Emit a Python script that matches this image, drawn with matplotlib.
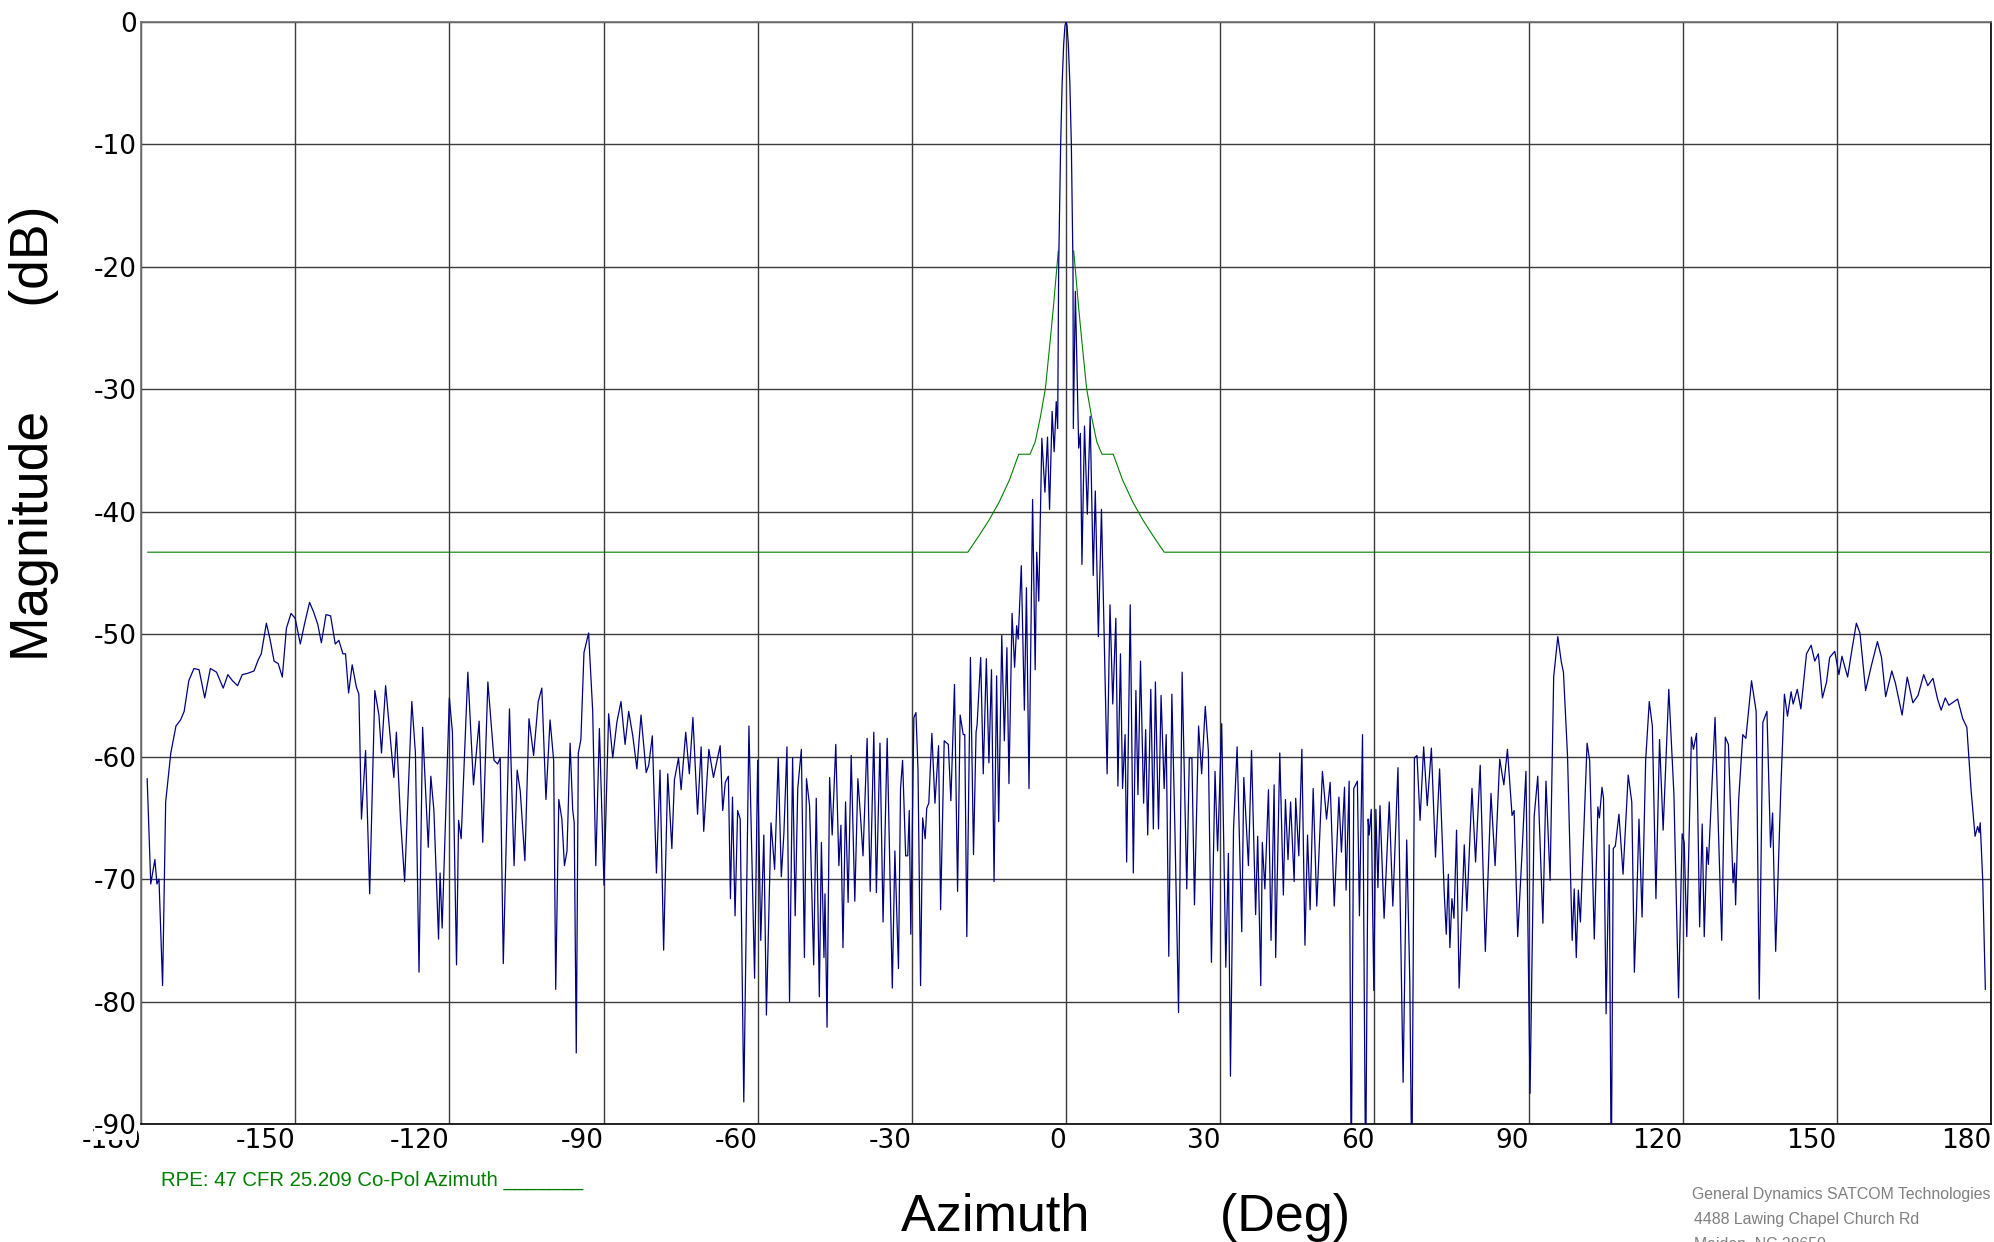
import matplotlib
matplotlib.use('Agg')
import matplotlib.pyplot as plt
import numpy as np

plt.rcParams['axes.unicode_minus'] = False

# Measured co-pol azimuth cut: angle (deg) and normalised magnitude (dB)
az = [
    -178.8, -178.1, -177.3, -176.9, -176.5, -175.8, -175.2, -174.2, -173.2, -172.3,
    -171.6, -170.7, -169.7, -168.7, -167.6, -166.5, -165.3, -164.0, -163.1, -162.2,
    -161.2, -160.3, -159.3, -158.0, -157.2, -156.6, -155.6, -154.9, -154.1, -153.3,
    -152.5, -151.7, -150.8, -150.0, -149.0, -148.2, -147.2, -146.4, -145.6, -144.9,
    -144.0, -143.1, -142.2, -141.5, -140.7, -140.2, -139.6, -138.9, -138.1, -137.6,
    -137.1, -136.3, -135.5, -134.5, -133.7, -133.2, -132.4, -131.6, -130.8, -130.3,
    -129.5, -128.7, -127.3, -126.6, -125.9, -125.2, -124.1, -123.6, -123.0, -122.1,
    -121.8, -121.4, -120.0, -119.4, -118.6, -118.2, -117.7, -116.4, -115.3, -114.2,
    -113.5, -112.5, -111.3, -110.6, -110.1, -109.5, -108.3,
    -107.4, -106.8, -106.2, -105.3, -104.5, -103.6, -102.7, -102.0, -101.2, -100.4,
    -99.7, -99.3, -98.7, -98.1, -97.6, -97.1, -96.5, -96.0, -95.7, -95.3,
    -94.9, -94.4, -93.8, -92.9, -92.1, -91.5, -90.8, -89.9, -89.0, -88.2,
    -87.4, -86.6, -85.8, -85.1, -84.3, -83.5, -82.7, -81.7, -81.2, -80.5,
    -79.7, -79.0, -78.3, -77.5, -76.7, -76.2, -75.4, -74.9, -74.0, -73.3,
    -72.6, -71.7, -71.0, -70.5, -69.5, -68.6, -68.1, -67.3, -66.8, -66.3,
    -65.7, -65.3, -64.9, -64.4, -63.9, -63.4, -62.7, -61.7, -60.6, -60.0,
    -59.4, -58.8, -58.3, -57.4, -56.7, -56.0, -55.4, -54.9, -54.3, -53.8,
    -53.2, -52.7, -52.2, -51.5, -50.9, -50.5, -49.9, -49.1, -48.6, -48.0,
    -47.6, -47.1, -46.9, -46.5, -46.0, -45.5, -44.8, -44.2, -43.8, -43.4,
    -42.9, -42.4, -41.8, -41.1, -40.5, -40.0, -39.5, -38.7, -38.1, -37.4,
    -36.9, -36.2, -35.6, -34.8, -33.8, -33.3, -32.6, -32.2,
    -31.8, -31.2, -30.8, -30.5, -30.2, -29.6, -29.2, -28.8, -28.3, -27.9,
    -27.4, -27.1, -26.7, -26.1, -25.5, -24.8, -24.4, -23.7, -22.9, -22.4,
    -21.7, -21.1, -20.6, -20.0, -19.7, -19.3, -18.6, -18.0, -17.5, -17.3,
    -16.6, -16.1, -15.5, -15.0, -14.5, -14.0, -13.5, -13.1, -12.5, -12.0,
    -11.5, -11.1, -10.5, -10.0, -9.6, -9.3, -8.7, -8.1, -7.7, -7.2,
    -6.5, -6.0, -5.7, -5.3, -4.7, -4.1, -3.6, -3.2, -2.7, -2.3,
    -1.9, -1.62, -1.43, -1.04, -0.75, -0.45, -0.2, 0.0, 0.2, 0.45,
    0.75, 1.04, 1.36, 1.43, 1.82, 2.47, 2.8, 3.1, 3.6, 4.15,
    4.7, 5.3, 5.7, 6.3, 6.9, 8.0, 8.56, 9.1, 9.7, 10.1,
    10.6, 11.0, 11.5, 11.8, 12.5, 13.1, 13.6, 14.0, 14.5, 15.1,
    15.5, 15.9, 16.5, 17.0, 17.4, 18.0, 18.5, 19.1, 19.5, 20.0,
    20.6, 21.2, 21.9, 22.6, 23.5, 24.0, 24.5, 25.0, 25.8, 26.4,
    27.1, 27.7, 28.3, 29.0, 29.5, 30.3, 31.1, 31.6, 32.0, 32.6,
    33.3, 34.2,
    34.6, 35.5, 36.1, 36.9, 37.3, 37.9, 38.2, 38.7, 39.4, 39.9,
    40.5, 40.8, 41.6, 42.3, 42.7, 43.2, 43.7, 44.4, 44.7, 45.3,
    45.9, 46.5, 47.0, 47.5, 48.1, 48.8, 49.9, 50.7, 51.4, 52.2,
    53.1, 53.6, 54.2, 54.5, 55.1, 55.5, 56.0, 56.7, 57.1, 57.7,
    58.3, 58.8, 59.0, 59.4, 59.9, 60.3, 60.7, 61.1, 61.9, 62.9,
    63.6, 64.6, 65.6, 66.3, 66.9, 67.3, 67.8, 68.3, 68.9, 69.6,
    70.3, 71.1, 71.9, 72.7, 73.6, 74.0, 74.4, 74.7, 75.1, 75.5,
    76.0, 76.5, 77.5, 78.0, 79.0, 79.7, 80.6, 81.6, 82.7, 83.5,
    84.4, 85.2, 85.9, 86.8, 87.2, 87.9, 88.7, 89.5, 90.3, 91.1,
    91.8, 92.8, 93.4, 94.2, 94.9, 95.7, 96.4, 96.8, 97.6, 98.5,
    98.9, 99.3, 99.7, 100.1, 101.4, 101.9, 102.8, 103.5, 103.8, 104.3,
    104.6, 105.1, 105.7, 106.1,
    106.5, 106.9, 107.6, 108.4, 109.4, 110.1, 110.6, 111.0, 111.5, 112.1,
    112.8, 113.5, 114.1, 114.8, 115.5, 116.2, 117.3, 118.3, 119.2, 119.9,
    120.3, 120.8, 121.7, 122.1, 122.7, 123.3, 123.8, 124.2, 124.7, 125.0,
    126.3, 127.6, 128.3, 128.9, 129.8, 130.1, 130.3, 130.9, 131.7, 132.3,
    133.4, 134.3, 134.9, 135.6, 136.4, 137.1, 137.5, 138.1, 139.1, 139.8,
    140.4, 141.1, 141.5, 142.3, 143.0, 144.1, 145.0, 145.7, 146.4, 147.2,
    148.0, 148.6, 149.6, 150.4, 151.0, 152.1, 153.0, 153.8, 154.5, 155.6,
    156.7, 157.9, 158.7, 159.5, 160.7, 161.4, 162.7, 163.7, 164.8, 165.8,
    166.9, 167.7, 168.7, 169.6, 170.3, 171.1, 171.8, 173.5, 174.5, 175.3,
    176.1, 176.9, 177.4, 177.7, 177.9, 178.4, 178.9,
]

mag = [
    -61.8, -70.4, -68.4, -70.4, -70.0, -78.7, -63.7, -59.7, -57.5, -57.0,
    -56.3, -53.8, -52.8, -52.9, -55.2, -52.8, -53.1, -54.4, -53.3, -53.8,
    -54.2, -53.3, -53.2, -53.0, -52.1, -51.6, -49.1, -50.4, -52.2, -52.4,
    -53.5, -49.5, -48.3, -48.7, -50.8, -49.2, -47.4, -48.2, -49.2, -50.7,
    -48.4, -48.5, -50.8, -50.5, -51.6, -51.6, -54.8, -52.5, -54.3, -54.9,
    -65.1, -59.5, -71.2, -54.6, -56.6, -59.7, -54.2, -57.9, -61.7, -58.0,
    -65.1, -70.2, -55.5, -59.7, -77.6, -57.6, -67.4, -61.6, -64.4, -74.9,
    -69.5, -74.0, -55.2, -58.0, -77.0, -65.2, -66.7, -53.1, -62.3, -57.1,
    -67.0, -53.9, -60.3, -60.6, -60.1, -76.9, -56.1,
    -68.9, -61.1, -62.8, -68.5, -56.9, -59.9, -55.5, -54.4, -63.5, -57.0,
    -60.3, -79.0, -63.5, -65.1, -68.9, -67.7, -58.9, -64.3, -65.4, -84.2,
    -59.7, -58.6, -51.5, -49.9, -56.3, -68.9, -57.7, -70.5, -56.5, -60.1,
    -57.2, -55.5, -59.0, -56.3, -58.3, -61.0, -56.6, -61.3, -60.7, -58.3,
    -69.5, -61.1, -75.8, -61.4, -67.5, -61.9, -60.1, -62.7, -58.0, -61.4,
    -56.8, -64.7, -59.2, -66.1, -59.4, -61.7, -60.7, -59.1, -64.4, -62.1,
    -61.6, -71.6, -63.3, -73.0, -64.4, -65.1, -88.2, -57.5, -78.1, -60.3,
    -75.0, -66.4, -81.1, -65.4, -69.2, -60.1, -69.8, -66.3, -59.2, -80.0,
    -60.1, -73.0, -62.6, -59.4, -76.4, -61.8, -64.0, -77.0, -63.4, -79.6,
    -67.0, -76.4, -71.2, -82.1, -61.7, -66.4, -59.0, -68.9, -65.6, -75.6,
    -63.7, -71.9, -59.9, -71.8, -61.8, -64.8, -68.1, -58.5, -71.0, -58.0,
    -71.1, -58.9, -73.5, -58.5, -78.9, -67.7, -77.3, -62.6,
    -60.3, -68.1, -68.1, -64.4, -74.5, -56.8, -56.4, -61.1, -78.7, -65.0,
    -66.7, -64.2, -63.8, -58.1, -63.8, -59.1, -72.5, -58.7, -59.0, -63.6,
    -54.1, -71.0, -56.6, -58.2, -58.2, -74.7, -51.9, -68.0, -58.0, -57.4,
    -51.9, -61.4, -52.0, -60.5, -52.9, -70.2, -53.4, -65.3, -50.1, -58.7,
    -51.1, -62.2, -48.3, -52.7, -49.3, -50.4, -44.4, -56.2, -46.2, -62.6,
    -39.0, -52.9, -43.3, -47.3, -34.0, -38.4, -33.9, -39.8, -31.8, -35.1,
    -31.0, -33.2, -20.0, -10.0, -5.0, -1.8, -0.3, 0.0, -0.3, -1.8,
    -5.0, -10.0, -20.0, -33.2, -22.0, -34.8, -33.6, -44.3, -33.0, -40.2,
    -32.2, -45.2, -38.3, -50.2, -39.8, -61.4, -47.6, -55.7, -48.7, -62.4,
    -51.6, -62.6, -58.2, -68.6, -47.6, -69.5, -54.6, -63.1, -52.2, -63.8,
    -57.8, -66.4, -54.5, -65.9, -53.9, -65.9, -55.0, -62.6, -58.2, -76.3,
    -54.9, -66.1, -80.9, -53.1, -70.8, -60.1, -60.1, -72.1, -57.5, -61.4,
    -55.9, -59.5, -76.8, -61.2, -67.7, -57.3, -77.2, -67.9, -86.1, -65.9,
    -59.2, -74.3,
    -61.7, -68.9, -59.5, -72.9, -66.5, -78.7, -67.0, -70.8, -62.7, -75.0,
    -62.3, -76.4, -59.7, -71.3, -63.5, -68.4, -63.7, -70.2, -63.4, -68.1,
    -59.4, -75.4, -66.4, -72.5, -62.6, -72.2, -61.2, -65.1, -62.1, -72.2,
    -63.3, -67.8, -62.5, -70.9, -62.0, -95.0, -62.6, -62.0, -73.0, -58.2,
    -95.0, -65.1, -66.4, -64.3, -79.1, -64.3, -70.7, -64.0, -73.2, -63.7,
    -72.2, -60.9, -86.6, -66.8, -78.3, -95.0, -60.1, -59.9, -65.2, -59.2,
    -64.0, -59.3, -68.2, -61.0, -71.1, -74.5, -69.6, -75.6, -71.6, -73.2,
    -66.0, -78.9, -67.2, -72.6, -62.6, -68.6, -60.7, -75.9, -63.0, -68.9,
    -60.2, -62.3, -59.4, -64.8, -64.4, -74.7, -68.2, -61.2, -87.5, -64.9,
    -61.6, -73.6, -62.0, -70.1, -53.5, -50.2, -52.3, -53.1, -60.0, -75.0,
    -70.8, -76.4, -70.9, -73.5, -58.9, -60.3, -74.9, -64.1, -65.0, -62.5,
    -63.4, -81.0, -67.2, -95.0,
    -67.5, -67.3, -64.7, -69.6, -61.5, -63.7, -77.6, -72.7, -65.1, -73.1,
    -60.3, -55.5, -57.5, -71.6, -58.6, -66.0, -54.5, -63.1, -79.7, -66.3,
    -67.0, -74.7, -58.4, -59.4, -58.1, -73.9, -65.5, -74.7, -67.4, -68.8,
    -56.8, -75.0, -58.4, -59.0, -70.3, -68.7, -72.1, -63.5, -58.2, -58.5,
    -53.8, -56.3, -79.8, -57.2, -56.3, -67.4, -64.6, -75.9, -62.6, -54.9,
    -56.7, -54.7, -55.7, -54.5, -56.1, -51.6, -50.9, -52.2, -51.6, -55.2,
    -53.9, -51.9, -51.4, -53.3, -51.8, -53.5, -51.1, -49.1, -49.9, -54.6,
    -52.6, -50.6, -51.9, -55.1, -53.0, -54.0, -56.6, -53.5, -55.6, -55.0,
    -53.3, -54.2, -53.6, -55.3, -56.2, -55.2, -55.8, -55.3, -56.9, -57.6,
    -62.6, -66.5, -65.7, -66.2, -65.4, -70.2, -79.0,
]

# 47 CFR 25.209 co-pol envelope, normalised to the peak (left and right halves)
mask_az_left = [-178.7, -19.1, -17.0, -15.0, -13.0, -11.0, -9.2, -7.0, -6.0, -5.0,
                -4.0, -3.0, -2.5, -2.0, -1.5]
mask_db_left = [-43.3, -43.3, -42.0, -40.7, -39.2, -37.4, -35.3, -35.3, -34.3, -32.3,
                -29.9, -25.7, -23.5, -21.1, -18.7]
mask_az_right = [1.5, 2.0, 2.5, 3.0, 4.0, 5.0, 6.0, 7.0, 9.2, 11.0,
                 13.0, 15.0, 17.0, 19.1, 180.0]
mask_db_right = [-18.7, -21.1, -23.5, -25.7, -29.9, -32.3, -34.3, -35.3, -35.3, -37.4,
                 -39.2, -40.7, -42.0, -43.3, -43.3]

x_ticks = list(range(-180, 181, 30))
y_ticks = list(range(0, -91, -10))

fig = plt.figure(figsize=(19.94, 12.42), dpi=100)
ax = fig.add_axes([141 / 1994, 1 - 1124 / 1242, 1850 / 1994, 1102 / 1242])

ax.plot(mask_az_left, mask_db_left, color='#008000', lw=0.8, zorder=3)
ax.plot(mask_az_right, mask_db_right, color='#008000', lw=0.8, zorder=3)
ax.plot(az, mag, color='#000080', lw=0.9, zorder=4)

ax.set_xlim(-180, 180)
ax.set_ylim(-90, 0)
ax.set_xticks(x_ticks)
ax.set_yticks(y_ticks)
ax.grid(True, color='#3c3c3c', lw=1.0)
ax.set_axisbelow(True)
ax.tick_params(length=0, labelsize=19)
ax.tick_params(axis='x', pad=3)
ax.tick_params(axis='y', pad=3)
for lab in ax.get_xticklabels():
    lab.set_ha('right')
    lab.set_family('DejaVu Sans')
for lab in ax.get_yticklabels():
    lab.set_family('DejaVu Sans')
    lab.set_bbox(dict(facecolor='white', edgecolor='none', pad=0))

for side in ['left', 'top']:
    ax.spines[side].set_color('#707070')
for side in ['right', 'bottom']:
    ax.spines[side].set_color('black')
for sp in ax.spines.values():
    sp.set_linewidth(1.2)

fig.text(34 / 1994, 1 - 661 / 1242, 'Magnitude       (dB)', rotation=90,
         ha='center', va='bottom', fontsize=38.5, family='Liberation Sans')
fig.text(901 / 1994, 1 - 1231 / 1242, 'Azimuth         (Deg)',
         ha='left', va='baseline', fontsize=37.5, family='Liberation Sans')

fig.text(161 / 1994, 1 - 1186 / 1242, 'RPE: 47 CFR 25.209 Co-Pol Azimuth _______',
         color='#008000', fontsize=14.7, family='Liberation Sans',
         ha='left', va='baseline')

grey = '#808080'
fig.text(1692 / 1994, 1 - 1199 / 1242, 'General Dynamics SATCOM Technologies',
         color=grey, fontsize=11.4, family='Liberation Sans', ha='left', va='baseline')
fig.text(1694 / 1994, 1 - 1224 / 1242, '4488 Lawing Chapel Church Rd',
         color=grey, fontsize=11.4, family='Liberation Sans', ha='left', va='baseline')
fig.text(1694 / 1994, 1 - 1249 / 1242, 'Maiden, NC 28650',
         color=grey, fontsize=11.4, family='Liberation Sans', ha='left', va='baseline')

fig.savefig('out.png', dpi=100)
